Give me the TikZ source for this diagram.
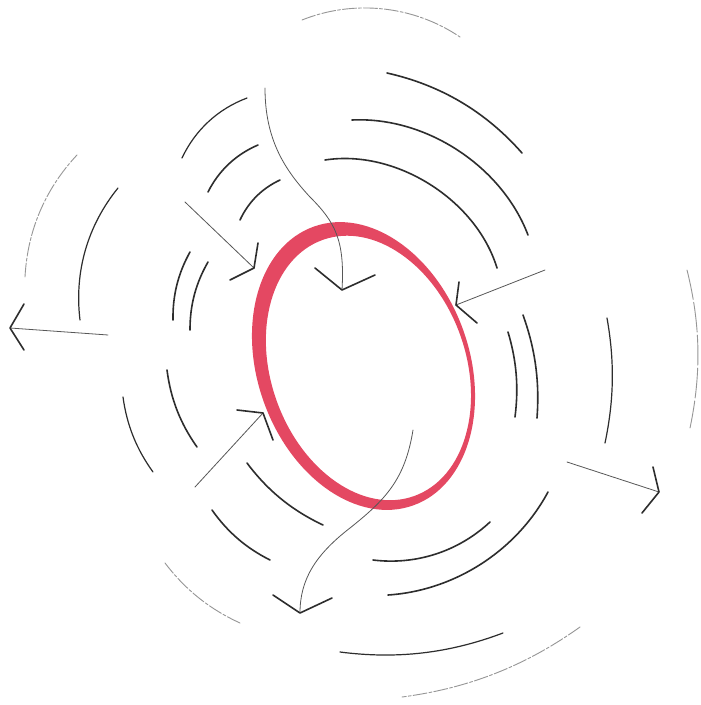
\documentclass[tikz,border=0pt]{standalone}
\usepackage{tikz}
\definecolor{loopred}{RGB}{228,72,98}
\definecolor{ink}{RGB}{45,45,45}
\definecolor{faint}{RGB}{150,150,150}
\tikzset{
  arcline/.style={draw=ink, line width=1.6pt, line cap=round, looseness=0.9},
  farline/.style={draw=faint, line width=0.9pt, line cap=round, looseness=0.9, dash pattern=on 14pt off 2pt on 3pt off 2pt},
  thinline/.style={draw=ink!80, line width=0.8pt, line cap=round},
  headline/.style={draw=ink, line width=1.6pt, line cap=round, line join=round},
}
\begin{document}
\begin{tikzpicture}[x=1pt,y=-1pt]
\useasboundingbox (0,0) rectangle (701,705);
\fill[white] (0,0) rectangle (701,705);

% red loop (thick on the left, thin on the right)
\begin{scope}[rotate around={19.6:(363.5,366)}]
\fill[loopred, even odd rule]
  (363.5,366) ellipse [x radius=106, y radius=148]
  (367.5,369.5) ellipse [x radius=97.5, y radius=136];
\end{scope}

% top arcs (all drawn clockwise, bulging outward)
\draw[farline] (302,20) to[bend left=28] (460,37);
\draw[arcline] (387,73) to[bend left=18] (522,153);
\draw[arcline] (352,120) to[bend left=36] (528,235);
\draw[arcline] (325,160) to[bend left=41] (497,268);

% left arcs
\draw[farline] (25,277) to[bend left=20] (77,155);
\draw[arcline, line width=1.2pt] (80,320) to[bend left=23] (118,188);
\draw[arcline, line width=1.2pt] (182,158) to[bend left=22] (247,98);
\draw[arcline] (208,192) to[bend left=20] (258,145);
\draw[arcline] (240,220) to[bend left=20] (280,180);
\draw[arcline] (173,320) to[bend left=15] (190,252);
\draw[arcline] (190,330) to[bend left=15] (208,262);

% right arcs
\draw[arcline] (508,332) to[bend left=12] (515,417);
\draw[arcline] (523,315) to[bend left=12] (537,418);
\draw[arcline, line width=1.2pt] (607,318) to[bend left=11] (605,443);
\draw[farline, dash pattern=on 30pt off 3pt] (687,270) to[bend left=13] (690,428);

% bottom-right arcs
\draw[arcline] (490,522) to[bend left=25] (373,560);
\draw[arcline] (548,492) to[bend left=29] (388,595);
\draw[arcline, line width=1.2pt] (503,633) to[bend left=14] (340,652);
\draw[farline] (580,627) to[bend left=14] (402,697);

% bottom-left arcs
\draw[arcline] (197,447) to[bend left=14] (167,370);
\draw[arcline, line width=1.2pt] (153,472) to[bend left=14] (123,397);
\draw[arcline] (323,525) to[bend left=14] (247,463);
\draw[arcline] (270,560) to[bend left=14] (212,510);
\draw[farline] (240,623) to[bend left=14] (165,563);

% arrows: outward left
\coordinate (aL1) at (108,335); \coordinate (aL2) at (10,328);
\draw[thinline] (aL1) -- (aL2);
\draw[headline] (24,304) -- (aL2) -- (24,350);

% outward right
\coordinate (aR1) at (567,462); \coordinate (aR2) at (659,492);
\draw[thinline] (aR1) -- (aR2);
\draw[headline] (653,467) -- (aR2) -- (642,513);

% inward upper-left
\coordinate (iUL1) at (185,202); \coordinate (iUL2) at (254,268);
\draw[thinline] (iUL1) -- (iUL2);
\draw[headline] (258,243) -- (iUL2) -- (230,280);

% inward right
\coordinate (iR1) at (545,270); \coordinate (iR2) at (456,305);
\draw[thinline] (iR1) -- (iR2);
\draw[headline] (459,282) -- (iR2) -- (477,323);

% inward lower-left
\coordinate (iLL1) at (195,487); \coordinate (iLL2) at (263,413);
\draw[thinline] (iLL1) -- (iLL2);
\draw[headline] (237,410) -- (iLL2) -- (273,440);

% curved arrow from top
\coordinate (cT1) at (265,88); \coordinate (cT2) at (342,290);
\draw[thinline] (cT1) .. controls (265,140) and (285,170) .. (310,197)
  .. controls (335,222) and (345,240) .. (cT2);
\draw[headline] (315,268) -- (cT2) -- (375,275);

% curved arrow to bottom
\coordinate (cB1) at (413,430); \coordinate (cB2) at (300,613);
\draw[thinline] (cB1) .. controls (405,480) and (385,500) .. (350,528)
  .. controls (315,555) and (300,580) .. (cB2);
\draw[headline] (273,595) -- (cB2) -- (332,598);
\end{tikzpicture}
\end{document}
